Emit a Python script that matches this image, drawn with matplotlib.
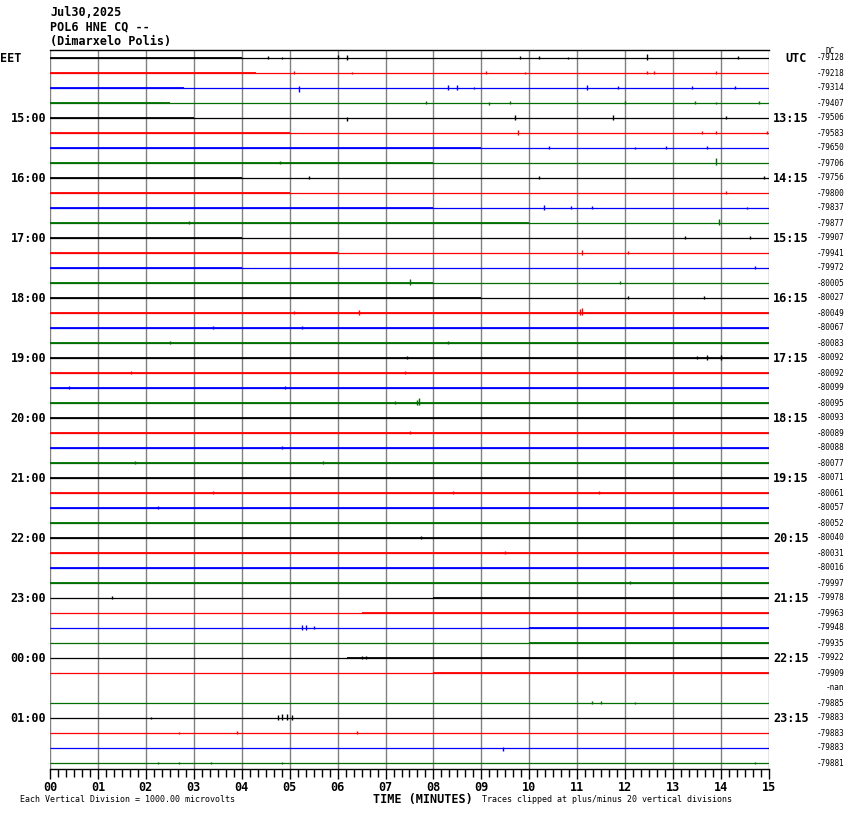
"""
Helicorder page for POL6 HNE CQ, 30 Jul 2025.
"""

import matplotlib
matplotlib.use("Agg")
import matplotlib.pyplot as plt
from matplotlib.ticker import MultipleLocator

# header
title_lines = ["Jul30,2025", "POL6 HNE CQ --", "(Dimarxelo Polis)"]

# one trace every 15 minutes, 48 rows
n_rows = 48
trace_colors = ["black", "red", "blue", "#006f00"]

eet_labels = ["15:00", "16:00", "17:00", "18:00", "19:00", "20:00",
              "21:00", "22:00", "23:00", "00:00", "01:00"]
utc_labels = ["13:15", "14:15", "15:15", "16:15", "17:15", "18:15",
              "19:15", "20:15", "21:15", "22:15", "23:15"]
hour_rows = [4, 8, 12, 16, 20, 24, 28, 32, 36, 40, 44]

dc_offsets = [
    "-79128", "-79218", "-79314", "-79407", "-79506", "-79583", "-79650", "-79706",
    "-79756", "-79800", "-79837", "-79877", "-79907", "-79941", "-79972", "-80005",
    "-80027", "-80049", "-80067", "-80083", "-80092", "-80092", "-80099", "-80095",
    "-80093", "-80089", "-80088", "-80077", "-80071", "-80061", "-80057", "-80052",
    "-80040", "-80031", "-80016", "-79997", "-79978", "-79963", "-79948", "-79935",
    "-79922", "-79909", "-nan", "-79885", "-79883", "-79883", "-79883", "-79881",
]

# rows with no data
missing_rows = [42]

# stretches of busy background noise (row, start minute, end minute)
noisy_row = [0, 1, 2, 3, 4, 5, 6, 7, 8, 9, 10, 11, 12, 13, 14, 15, 16,
             17, 18, 19, 20, 21, 22, 23, 24, 25, 26, 27, 28, 29, 30, 31,
             32, 33, 34, 35, 36, 37, 38, 39, 40, 41]
noisy_start = [0, 0, 0, 0, 0, 0, 0, 0, 0, 0, 0, 0, 0, 0, 0, 0, 0,
               0, 0, 0, 0, 0, 0, 0, 0, 0, 0, 0, 0, 0, 0, 0,
               0, 0, 0, 0, 8.0, 6.5, 10.0, 10.0, 6.2, 8.0]
noisy_end = [4.0, 4.3, 2.8, 2.5, 3.0, 5.0, 9.0, 8.0, 4.0, 5.0, 8.0, 10.0,
             4.0, 6.0, 4.0, 8.0, 9.0,
             15, 15, 15, 15, 15, 15, 15, 15, 15, 15, 15, 15, 15, 15, 15,
             15, 15, 15, 15, 15, 15, 15, 15, 15, 15]

# larger wiggles (row, minute, amplitude in trace spacings)
event_row = [0, 0, 0, 0, 0, 0, 0, 0, 0,
             1, 1, 1, 1, 1, 1, 1,
             2, 2, 2, 2, 2, 2, 2, 2,
             3, 3, 3, 3, 3, 3, 3,
             4, 4, 4, 4,
             5, 5, 5, 5,
             6, 6, 6, 6,
             7, 7,
             8, 8, 8,
             9,
             10, 10, 10, 10,
             11, 11,
             12, 12, 13, 13, 14, 15, 15, 16, 16,
             17, 17, 17, 17, 18, 18, 19, 19,
             20, 20, 20, 20, 21, 21, 22, 22, 23, 23, 23,
             25, 26, 27, 27, 29, 29, 29, 30, 32, 33, 35,
             36, 38, 38, 38, 40, 40,
             43, 43, 43, 44, 44, 44, 44, 44, 45, 45, 45, 46,
             47, 47, 47, 47, 47]
event_min = [4.55, 4.84, 6.0, 6.2, 9.8, 10.2, 10.8, 12.45, 14.35,
             5.1, 6.3, 9.1, 9.9, 12.45, 12.6, 13.9,
             5.2, 8.3, 8.5, 8.85, 11.2, 11.85, 13.4, 14.3,
             7.85, 9.15, 9.6, 12.0, 13.45, 13.9, 14.8,
             6.2, 9.7, 11.75, 14.1,
             9.77, 13.6, 13.9, 14.95,
             10.4, 12.2, 12.85, 13.7,
             4.8, 13.9,
             5.4, 10.2, 14.9,
             14.1,
             10.3, 10.87, 11.3, 14.55,
             2.9, 13.95,
             13.25, 14.6, 11.1, 12.05, 14.7, 7.5, 11.9, 12.05, 13.65,
             5.1, 6.45, 11.05, 11.1, 3.4, 5.25, 2.5, 8.3,
             7.45, 13.5, 13.7, 14.0, 1.7, 7.4, 0.4, 4.9, 7.2, 7.65, 7.7,
             7.5, 4.85, 1.77, 5.7, 3.4, 8.4, 11.45, 2.25, 7.75, 9.5, 12.1,
             1.3, 5.25, 5.35, 5.5, 6.5, 6.6,
             11.3, 11.5, 12.2, 4.75, 4.85, 4.95, 5.05, 2.1, 2.7, 3.9, 6.4, 9.45,
             2.25, 2.7, 3.35, 4.85, 14.7]
event_amp = [0.13, 0.1, 0.17, 0.2, 0.13, 0.13, 0.1, 0.27, 0.13,
             0.13, 0.1, 0.13, 0.1, 0.13, 0.13, 0.13,
             -0.27, 0.2, 0.2, 0.1, 0.2, 0.13, 0.13, 0.13,
             0.13, -0.13, 0.13, 0.13, 0.13, 0.1, 0.13,
             -0.2, 0.2, 0.2, 0.13,
             0.2, 0.13, 0.13, 0.13,
             0.13, 0.1, 0.13, 0.13,
             0.13, 0.33,
             0.13, 0.13, 0.13,
             0.13,
             0.2, 0.13, 0.13, 0.1,
             0.13, 0.27,
             0.13, 0.13, 0.2, 0.13, 0.13, 0.27, 0.13, 0.13, 0.13,
             0.13, 0.2, 0.27, 0.33, 0.13, 0.13, 0.13, 0.13,
             0.13, 0.13, 0.2, 0.2, 0.13, 0.13, 0.13, 0.13, 0.13, 0.2, 0.33,
             0.13, 0.13, 0.13, 0.13, 0.13, 0.13, 0.13, 0.13, 0.13, 0.13, 0.13,
             0.13, 0.2, 0.2, 0.13, 0.13, 0.13,
             0.13, 0.13, 0.1, 0.2, 0.27, 0.27, 0.2, 0.1, 0.1, 0.13, 0.13, -0.2,
             0.1, 0.1, 0.1, 0.1, 0.1]

minutes = list(range(16))
minute_labels = [f"{m:02d}" for m in minutes]


fig = plt.figure(figsize=(8.5, 8.14), dpi=100)

W, H = 850, 814
ax = fig.add_axes([50 / W, 1 - 769 / H, 719 / W, 719 / H])

ax.set_xlim(0, 15)
ax.set_ylim(47.4, -8 / 15)

# minute grid
for m in minutes:
    ax.axvline(m, color="#808080", lw=1.0, zorder=1)

for row in range(n_rows):

    if row in missing_rows:
        continue

    color = trace_colors[row % 4]

    ax.hlines(row, 0, 15, color=color, lw=0.9, zorder=2)

for row, start, end in zip(noisy_row, noisy_start, noisy_end):

    ax.hlines(row, start, end, color=trace_colors[row % 4], lw=1.3, zorder=2)

for row, m, amp in zip(event_row, event_min, event_amp):

    ax.vlines(m, row - amp, row + 0.5 * amp,
              color=trace_colors[row % 4], lw=1.0, zorder=3)

# frame
for side in ["left", "right"]:
    ax.spines[side].set_visible(False)

for side in ["top", "bottom"]:
    ax.spines[side].set_color("black")
    ax.spines[side].set_linewidth(1.0)

ax.set_yticks([])

ax.xaxis.set_major_locator(MultipleLocator(1))
ax.xaxis.set_minor_locator(MultipleLocator(1 / 6))
ax.set_xticks(minutes)
ax.set_xticklabels(minute_labels, family="DejaVu Sans Mono",
                   fontweight="bold", fontsize=8.5)
ax.tick_params(axis="x", which="major", length=7.5, width=1.0, pad=1.0)
ax.tick_params(axis="x", which="minor", length=5.5, width=1.0)

mono = "DejaVu Sans Mono"
ytr = ax.get_yaxis_transform()

for label, row in zip(eet_labels, hour_rows):

    ax.text(-4 / 719, row, label, transform=ytr, ha="right", va="center",
            family=mono, fontweight="bold", fontsize=8.5)

for label, row in zip(utc_labels, hour_rows):

    ax.text(1 + 4 / 719, row, label, transform=ytr, ha="left", va="center",
            family=mono, fontweight="bold", fontsize=8.5)

for row, label in enumerate(dc_offsets):

    x = 1 + 48 / 719
    if label == "-nan":
        x = 1 + 57 / 719

    ax.text(x, row, label, transform=ytr, ha="left", va="center",
            family=mono, fontsize=5.5)

ax.text(-50 / 719, 0, "EET", transform=ytr, ha="left", va="center",
        family=mono, fontweight="bold", fontsize=8.5)
ax.text(1 + 16 / 719, 0, "UTC", transform=ytr, ha="left", va="center",
        family=mono, fontweight="bold", fontsize=8.5)
ax.text(1 + 56 / 719, -0.45, "DC", transform=ytr, ha="left", va="center",
        family=mono, fontsize=5.5)

for i, line in enumerate(title_lines):

    fig.text(50 / W, 1 - (12 + 14.5 * i) / H, line, ha="left", va="center",
             family=mono, fontweight="bold", fontsize=8.5)

fig.text(423 / W, 1 - 799.5 / H, "TIME (MINUTES)", ha="center", va="center",
         family=mono, fontweight="bold", fontsize=8.5)
fig.text(20 / W, 1 - 800 / H, "Each Vertical Division = 1000.00 microvolts",
         ha="left", va="center", family=mono, fontsize=6)
fig.text(482 / W, 1 - 800 / H,
         "Traces clipped at plus/minus 20 vertical divisions",
         ha="left", va="center", family=mono, fontsize=6)

fig.savefig("out.png", dpi=100, facecolor="white")
